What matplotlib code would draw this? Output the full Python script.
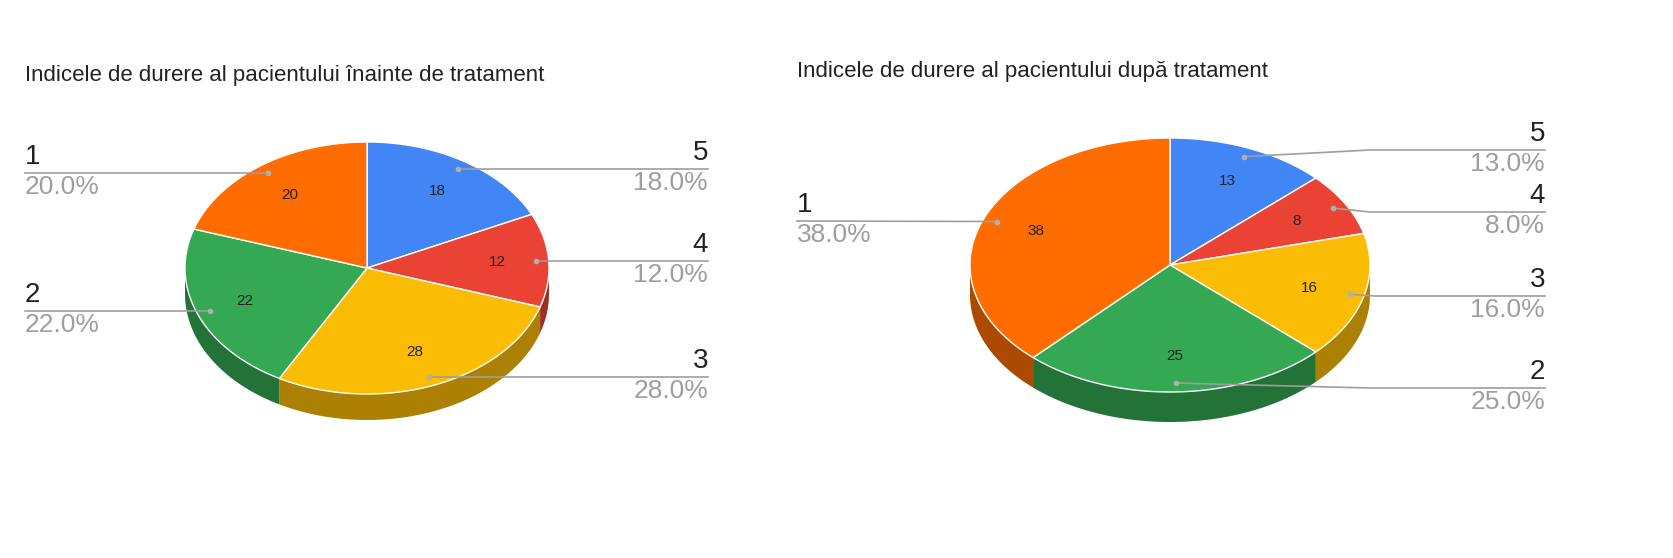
import numpy as np
import matplotlib
matplotlib.use("Agg")
import matplotlib.pyplot as plt

plt.rcParams['font.family'] = ['Liberation Sans', 'DejaVu Sans']

categories = ["5", "4", "3", "2", "1"]
before_values = [18, 12, 28, 22, 20]
after_values = [13, 8, 16, 25, 38]
title_before = "Indicele de durere al pacientului înainte de tratament"
title_after = "Indicele de durere al pacientului după tratament"
colors = ["#4285F4", "#EA4335", "#FBBC04", "#34A853", "#FF6D01"]

W, H = 1674, 558
fig = plt.figure(figsize=(W/100, H/100), dpi=100)
ax = fig.add_axes([0, 0, 1, 1])
ax.set_xlim(0, W); ax.set_ylim(H, 0); ax.axis("off")

def darker(c, f=0.68):
    r, g, b = matplotlib.colors.to_rgb(c)
    return (r*f, g*f, b*f)

def pie3d(values, cx, cy, rx, ry, depth, title, tx, ty, lx, rxl, label_y=None):
    total = float(sum(values))
    ax.text(tx, ty, title, fontsize=16, ha="left", va="center", color="#222222")
    start = 0.0
    slices = []
    for v, c, lab in zip(values, colors, categories):
        a0 = start / total * 2*np.pi
        a1 = (start + v) / total * 2*np.pi
        start += v
        slices.append((a0, a1, v, c, lab))
    for a0, a1, v, c, lab in slices:
        t = np.linspace(a0, a1, 200)
        xs = cx + rx*np.sin(t); ys = cy - ry*np.cos(t)
        m = np.cos(t) <= 0
        if m.sum() > 1:
            px = xs[m]; py = ys[m]
            poly = np.concatenate([np.c_[px, py], np.c_[px[::-1], py[::-1] + depth]])
            ax.fill(poly[:, 0], poly[:, 1], color=darker(c), lw=0, zorder=1)
    for i, (a0, a1, v, c, lab) in enumerate(slices):
        t = np.linspace(a0, a1, 200)
        xs = np.r_[cx, cx + rx*np.sin(t)]; ys = np.r_[cy, cy - ry*np.cos(t)]
        ax.fill(xs, ys, color=c, ec="white", lw=1, zorder=2)
        am = (a0 + a1) / 2
        ax.text(cx + 0.72*rx*np.sin(am), cy - 0.72*ry*np.cos(am), str(v),
                fontsize=11, ha="center", va="center", color="#222222", zorder=4)
        dx = cx + 0.93*rx*np.sin(am); dy = cy - 0.93*ry*np.cos(am)
        ly = label_y[i] if label_y else dy
        ax.plot([dx], [dy], "o", ms=3, color="#b0b0b0", zorder=4)
        pct = f"{v/total*100:.1f}%"
        if np.sin(am) >= 0:
            ex = max(dx + 25, rxl - 175) if label_y else dx
            ax.plot([dx, ex, rxl], [dy, ly, ly], color="#9e9e9e", lw=1.2, zorder=3)
            ax.text(rxl, ly - 3, lab, fontsize=20, ha="right", va="bottom", color="#222222")
            ax.text(rxl, ly + 2, pct, fontsize=19, ha="right", va="top", color="#9e9e9e")
        else:
            ax.plot([lx, dx], [ly, dy], color="#9e9e9e", lw=1.2, zorder=3)
            ax.text(lx, ly - 3, lab, fontsize=20, ha="left", va="bottom", color="#222222")
            ax.text(lx, ly + 2, pct, fontsize=19, ha="left", va="top", color="#9e9e9e")

pie3d(before_values, 367, 268, 182, 126, 26, title_before, 25, 75, 25, 708)
pie3d(after_values, 1170, 265, 200, 127, 30, title_after, 797, 72, 797, 1545,
      label_y=[150, 212, 296, 388, 221])

fig.savefig("out.png", dpi=100, facecolor="white")
